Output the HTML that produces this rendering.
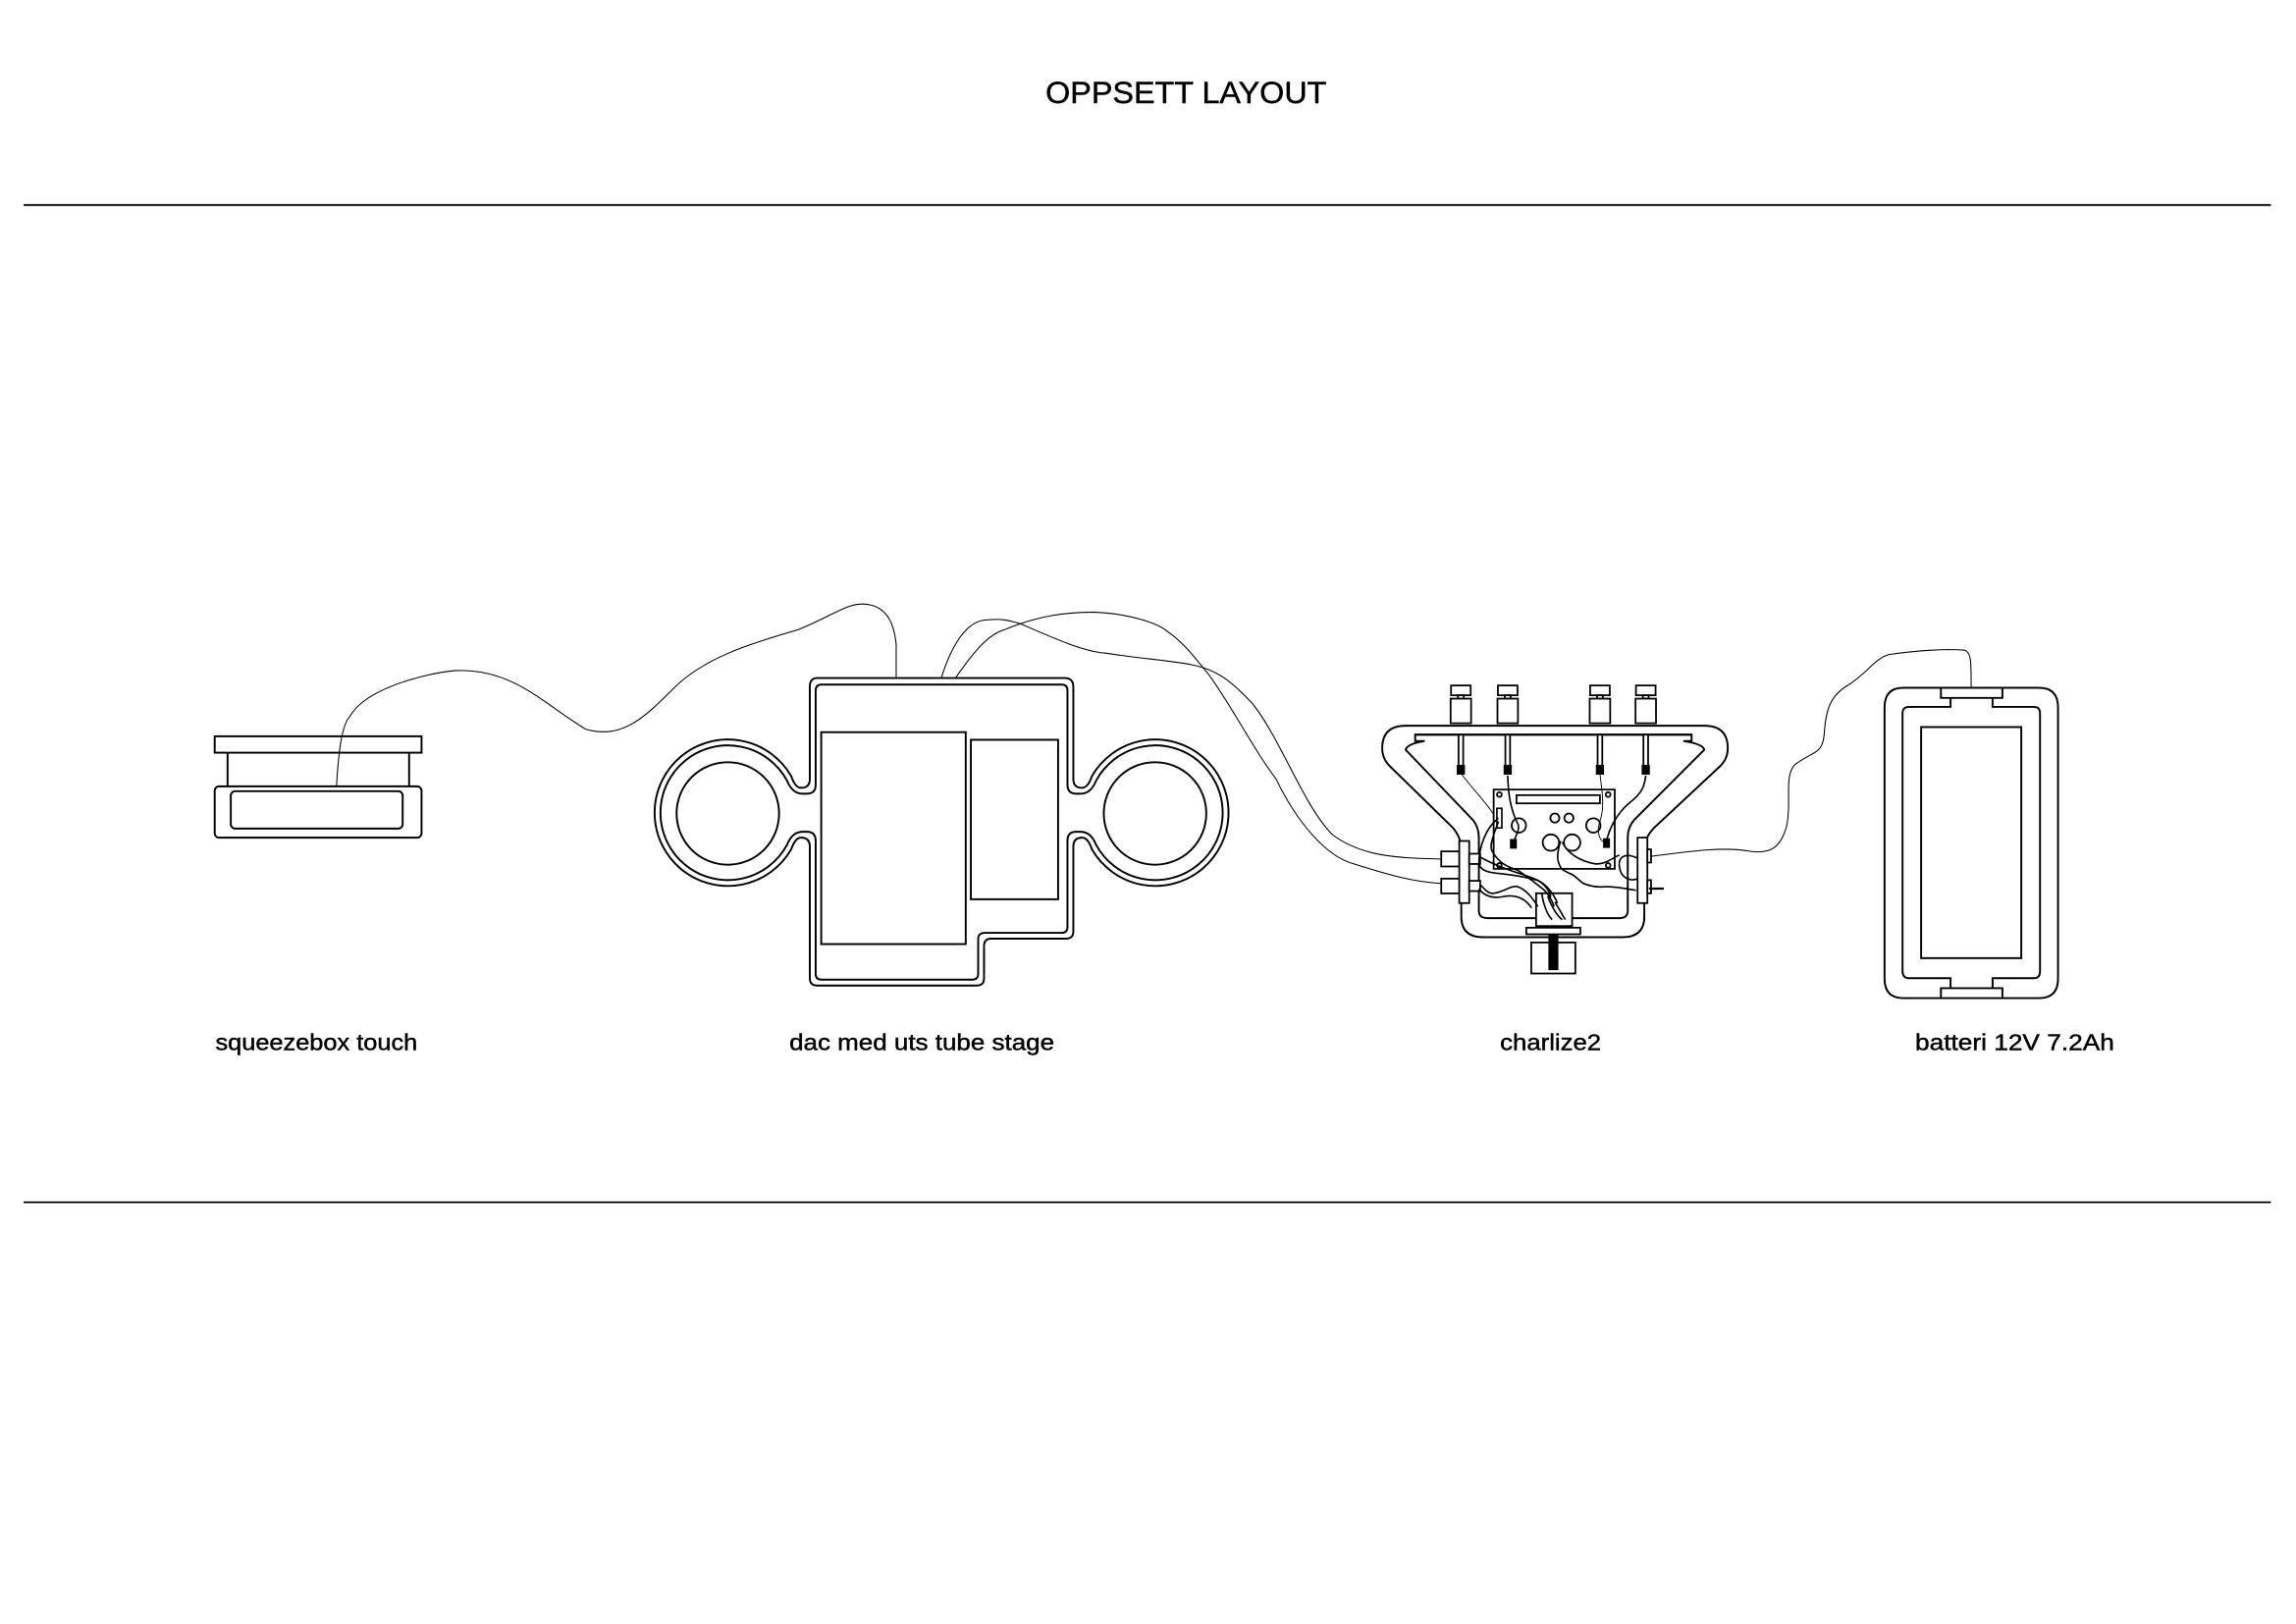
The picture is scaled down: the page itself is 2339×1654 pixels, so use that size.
<!DOCTYPE html>
<html><head><meta charset="utf-8"><style>
html,body{margin:0;padding:0;background:#fff;}
svg{display:block;}
text{font-family:"Liberation Sans",sans-serif;fill:#000;stroke:#000;stroke-width:0.3;}
</style></head><body>
<svg width="2339" height="1654" viewBox="0 0 1568 1109" xmlns="http://www.w3.org/2000/svg">
<rect width="1568" height="1109" fill="#fff"/>
<text x="810" y="70.5" font-size="21" text-anchor="middle" textLength="192" lengthAdjust="spacingAndGlyphs">OPPSETT LAYOUT</text>
<line x1="16" y1="140" x2="1551" y2="140" stroke="#000" stroke-width="1.2"/>
<line x1="16" y1="821" x2="1551" y2="821" stroke="#000" stroke-width="1.2"/>

<g font-size="15.5" text-anchor="middle">
<text x="216" y="717" textLength="138" lengthAdjust="spacingAndGlyphs">squeezebox touch</text>
<text x="629.5" y="717" textLength="181" lengthAdjust="spacingAndGlyphs">dac med uts tube stage</text>
<text x="1059" y="717" textLength="69" lengthAdjust="spacingAndGlyphs">charlize2</text>
<text x="1376" y="717" textLength="136" lengthAdjust="spacingAndGlyphs">batteri 12V 7.2Ah</text>
</g>

<!-- thin wires -->
<g fill="none" stroke="#000" stroke-width="0.7">
<path d="M229.7,537 C231,515 233,495 239,489 C250,470 290,460 310,458 C350,456 370,480 400,498 C425,505 440,490 460,470 C480,450 510,440 545,430 C570,420 580,410 594,413 C608,416 611,430 612,440 L612,463"/>
<path d="M642.8,463 C650,440 660,425 672,423.5 C685,422 690,424 697,426 C720,436 740,445 755,446 C780,450 800,451 814,454 C835,458 845,470 855,480 C875,505 890,550 910,570 C930,585 955,586 984,586.6"/>
<path d="M652.5,463 C665,445 675,433 686,430 C710,420 730,418 747,418 C770,419 790,425 797,431 C810,440 818,452 825,460 C840,480 855,510 871.5,532 C885,560 905,585 925,590 C950,598 965,602 984,603.3"/>
<path d="M1126,585 C1150,582 1175,578 1193,581 C1210,584 1216,578 1220,565 C1224,548 1218,530 1226,522 C1240,512 1245,515 1246,500 C1247,485 1250,475 1262,468 C1275,460 1280,450 1290,447 C1310,444 1330,443 1342,444 C1347,446 1346,455 1346.3,469.7"/>
</g>

<!-- squeezebox -->
<g fill="none" stroke="#000" stroke-width="1.3">
<rect x="146.5" y="502.8" width="141.3" height="11.2"/>
<line x1="155.3" y1="514" x2="155.3" y2="537"/>
<line x1="279.3" y1="514" x2="279.3" y2="537"/>
<rect x="146.5" y="537" width="141.3" height="35" rx="3"/>
<rect x="157.5" y="540.3" width="117.4" height="25.5" rx="3"/>
</g>

<!-- DAC -->
<g fill="none" stroke="#000" stroke-width="1.3">
<path d="M558,463 H727 Q733,463 733,469 V532 Q733,538 739,538 Q743,538 745.7,530 A50 50 0 1 1 745.7,580 Q743,572 739,572 Q733,572 733,578 V636 Q733,641 728,641 H677 Q672,641 672,646 V668 Q672,673 667,673 H558 Q553,673 553,668 V578 Q553,572 547,572 Q543,572 540.3,580 A50 50 0 1 1 540.3,530 Q543,538 547,538 Q553,538 553,532 V469 Q553,463 558,463 Z"/>
<path d="M561,467.5 H725 Q729,467.5 729,471.5 V536 Q729,542 735,542 H738 Q745,542 748.6,533 A46 46 0 1 1 748.6,577 Q745,568 738,568 H735 Q729,568 729,574 V633 Q729,637 725,637 H673 Q668,637 668,641 V665 Q668,669 664,669 H561 Q557,669 557,665 V574 Q557,568 551,568 H548 Q541,568 537.4,577 A46 46 0 1 1 537.4,533 Q541,542 548,542 H551 Q557,542 557,536 V471.5 Q557,467.5 561,467.5 Z"/>
<circle cx="497" cy="555.5" r="35"/>
<circle cx="788.8" cy="555.5" r="35"/>
<rect x="560.8" y="500" width="98.7" height="144.7"/>
<rect x="663" y="505.2" width="59.6" height="108.9"/>
</g>

<!-- charlize2 -->
<g fill="none" stroke="#000" stroke-width="1.3">
<path d="M960,495.6 H1164 Q1180,495.6 1180,511 Q1180,518 1175,523 L1130,565 Q1123,572 1123,580 V626 Q1123,640 1108,640 H1013 Q998,640 998,626 V580 Q998,572 992,565 L949,523 Q944,518 944,511 Q944,495.6 960,495.6 Z"/>
<path d="M966.5,501.7 H1155.3 V506 H1149.7 Q1163,508 1164,512 L1116,560 Q1111.7,565 1111.7,572 V622 Q1111.7,627 1106,627 H1016 Q1010,627 1010,622 V572 Q1010,565 1006,560 L960,512 Q961,508 973,506 H966.5 Z"/>
<line x1="966.5" y1="501.7" x2="1155.3" y2="501.7"/>
</g>
<!-- binding posts -->
<g fill="#fff" stroke="#000" stroke-width="1.2">
<g transform="translate(997.7,0)"><rect x="-6.7" y="468.1" width="13.4" height="6.7"/><rect x="-2" y="474.8" width="4" height="2.3"/><rect x="-7" y="477.1" width="14" height="16.8"/><rect x="-1.6" y="501.7" width="3.2" height="21.2"/><rect x="-2.2" y="522.9" width="4.4" height="5.5" fill="#000"/></g>
<g transform="translate(1029.7,0)"><rect x="-6.7" y="468.1" width="13.4" height="6.7"/><rect x="-2" y="474.8" width="4" height="2.3"/><rect x="-7" y="477.1" width="14" height="16.8"/><rect x="-1.6" y="501.7" width="3.2" height="21.2"/><rect x="-2.2" y="522.9" width="4.4" height="5.5" fill="#000"/></g>
<g transform="translate(1092.7,0)"><rect x="-6.7" y="468.1" width="13.4" height="6.7"/><rect x="-2" y="474.8" width="4" height="2.3"/><rect x="-7" y="477.1" width="14" height="16.8"/><rect x="-1.6" y="501.7" width="3.2" height="21.2"/><rect x="-2.2" y="522.9" width="4.4" height="5.5" fill="#000"/></g>
<g transform="translate(1124,0)"><rect x="-6.7" y="468.1" width="13.4" height="6.7"/><rect x="-2" y="474.8" width="4" height="2.3"/><rect x="-7" y="477.1" width="14" height="16.8"/><rect x="-1.6" y="501.7" width="3.2" height="21.2"/><rect x="-2.2" y="522.9" width="4.4" height="5.5" fill="#000"/></g>
</g>
<!-- PCB -->
<g fill="none" stroke="#000" stroke-width="1.2">
<rect x="1020.1" y="539.2" width="82.7" height="54.1"/>
<rect x="1035.7" y="543" width="57" height="5.6"/>
<circle cx="1037.3" cy="563.7" r="4.9"/>
<circle cx="1061.9" cy="558.6" r="3.1"/>
<circle cx="1071.5" cy="558.6" r="3.1"/>
<circle cx="1088.2" cy="563.7" r="4.9"/>
<circle cx="1059.2" cy="575.4" r="5.6"/>
<circle cx="1073.7" cy="575.4" r="5.6"/>
<circle cx="1024" cy="542.6" r="1.6"/>
<circle cx="1098.3" cy="542.6" r="1.6"/>
<circle cx="1024" cy="591" r="1.6"/>
<circle cx="1098.3" cy="591" r="1.6"/>
</g>
<!-- side plates / jacks -->
<g fill="#fff" stroke="#000" stroke-width="1.2">
<rect x="996.6" y="574.3" width="6.8" height="42.4"/>
<rect x="984.3" y="581.4" width="12.3" height="10.3"/>
<rect x="984.3" y="600" width="12.3" height="10.1"/>
<rect x="1003.4" y="583" width="7.5" height="7"/>
<rect x="1003.4" y="601.5" width="7.5" height="7"/>
<rect x="1118.4" y="572" width="6.7" height="44.7"/>
<rect x="1125.1" y="580" width="2.5" height="9"/>
<rect x="1125.1" y="601" width="2.5" height="9"/>
<rect x="1049.1" y="610" width="24.6" height="22.4"/>
<rect x="1042.4" y="633.5" width="36.9" height="4.5"/>
<rect x="1045.8" y="643.6" width="30.1" height="21.2"/>
</g>
<rect x="1057.5" y="638" width="6.8" height="24.5" fill="#000"/>
<line x1="1126.2" y1="606.8" x2="1136.3" y2="606.8" stroke="#000" stroke-width="1.5"/>
<!-- internal wires -->
<g fill="none" stroke="#000" stroke-width="1.1">
<path d="M1029.7,529.7 C1030,540 1031,552 1036.9,563.2 C1038,568 1034,572 1033.5,576.6"/>
<rect x="1031.8" y="573.5" width="3.6" height="5.5" fill="#000"/>
<path d="M1124,529.7 C1123,538 1121,542 1112,549 C1104,556 1099,566 1097.2,574.4"/>
<rect x="1095.4" y="573" width="3.6" height="5.5" fill="#000"/>
<rect x="1022.3" y="552" width="3.4" height="13.4"/>
<path d="M1023.4,558.7 C1015,565 1010,578 1010,590 C1012,596 1020,596 1025.7,596.7 C1038,598 1046,600 1050.3,601.2 C1055,604 1058,608 1059.2,612.4"/>
<path d="M1023.4,561 C1020,570 1017,578 1019,581.1 C1024,590 1030,592 1036.9,594.5 C1045,600 1050,604 1054.7,607.9 C1058,611 1060,615 1061.4,619.1"/>
<path d="M1011.2,585.5 C1016,588 1020,590 1025.7,592.2 C1035,596 1044,598 1050.3,601.2 C1056,604 1061,610 1063.7,616.8"/>
<path d="M1011.2,604.5 C1014,607 1016,610 1019,610.1 C1026,610 1032,604 1036.9,605.6 C1043,608 1047,614 1050.3,619"/>
<path d="M1010,607 C1014,612 1020,614 1028,612 C1036,611 1042,614 1046,620"/>
<path d="M1065.9,574.4 C1064,580 1063,586 1064.8,590 C1066,594 1069,595 1072.6,596.7 C1076,598 1078,601 1081.6,603.4 C1086,605 1090,606 1095,605.6 C1103,605 1110,607 1117.3,607.9"/>
<path d="M1067,575 C1070,582 1078,588 1090,590 C1098,590 1102,585 1106,584"/>
<path d="M1118.4,586 C1110,582 1105,585 1106,592 C1107,600 1114,602 1118.4,600"/>
<path d="M1053,610 C1054,618 1057,625 1060,628 M1057,612 C1060,620 1064,626 1067,628 M1062,616 L1069,628"/>
</g>
<g fill="none" stroke="#000" stroke-width="0.6">
<path d="M997.7,528 C1005,538 1015,548 1020,556"/>
<path d="M1092.7,528 C1094,540 1096,550 1093,560 C1090,568 1092,574 1097,576"/>
</g>

<!-- battery -->
<g fill="none" stroke="#000" stroke-width="1.3">
<path d="M1300,469.7 H1325.6 V476.6 H1367.6 V469.7 H1392.6 Q1405.6,469.7 1405.6,483 V668.3 Q1405.6,681.6 1392.6,681.6 H1367.6 V674.8 H1325.6 V681.6 H1300 Q1287.1,681.6 1287.1,668.3 V483 Q1287.1,469.7 1300,469.7 Z"/>
<line x1="1325.6" y1="469.7" x2="1367.6" y2="469.7"/>
<line x1="1325.6" y1="681.6" x2="1367.6" y2="681.6"/>
<path d="M1304,482.7 H1332.2 V476.6 M1360.9,476.6 V482.7 H1389 Q1393.3,482.7 1393.3,487 V663 Q1393.3,668 1389,668 H1360.9 V674.8 M1332.2,674.8 V668 H1304 Q1299.4,668 1299.4,663 V487 Q1299.4,482.7 1304,482.7"/>
<rect x="1312.1" y="496.5" width="68.4" height="157.8"/>
</g>
</svg>
</body></html>
